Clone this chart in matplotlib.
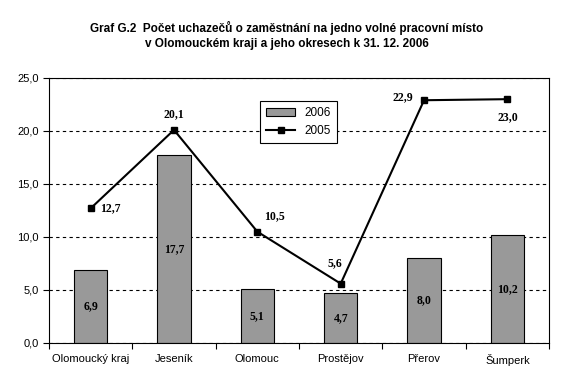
import numpy as np
import matplotlib.pyplot as plt
from matplotlib.ticker import FixedLocator, FuncFormatter

# --- data ---
kraje = ["Olomoucký kraj", "Jeseník", "Olomouc", "Prostějov", "Přerov", "Šumperk"]
v2006 = [6.9, 17.7, 5.1, 4.7, 8.0, 10.2]
v2005 = [12.7, 20.1, 10.5, 5.6, 22.9, 23.0]
# label offsets for the 2005 line (points)
off2005 = [(14, 0), (0, 11), (12, 11), (-4, 15), (-15, 2), (0, -13)]

plt.rcParams['font.family'] = ['Liberation Sans', 'DejaVu Sans']

fig = plt.figure(figsize=(5.73, 3.86), dpi=100)
ax = fig.add_axes([0.0855, 0.1114, 0.8727, 0.6866])

x = np.arange(len(kraje))
bars = ax.bar(x, v2006, width=0.4, color='#999999', edgecolor='black', linewidth=0.8,
              label='2006', zorder=2)
line, = ax.plot(x, v2005, color='black', lw=1.5, marker='s', ms=4.5, label='2005', zorder=3)

for xi, v in zip(x, v2006):
    ax.text(xi, v / 2, f"{v:.1f}".replace('.', ','), ha='center', va='center',
            family='Liberation Serif', fontweight='bold', fontsize=8.5, zorder=4)
for xi, v, (dx, dy) in zip(x, v2005, off2005):
    ax.annotate(f"{v:.1f}".replace('.', ','), (xi, v), xytext=(dx, dy),
                textcoords='offset points', ha='center', va='center',
                family='Liberation Serif', fontweight='bold', fontsize=8.5, zorder=4)

ax.set_xlim(-0.5, len(kraje) - 0.5)
ax.set_ylim(0, 25)
ax.set_yticks(np.arange(0, 26, 5))
ax.yaxis.set_major_formatter(FuncFormatter(lambda v, p: f"{v:.1f}".replace('.', ',')))
ax.yaxis.grid(True, linestyle=(0, (3, 3)), color='black', lw=0.8)
ax.set_axisbelow(True)

ax.set_xticks(x)
ax.set_xticklabels(kraje, fontsize=8)
ax.tick_params(axis='x', which='major', length=0, pad=8)
ax.xaxis.set_minor_locator(FixedLocator(np.arange(-0.5, len(kraje), 1)))
ax.tick_params(axis='x', which='minor', length=4, direction='out', width=0.8)
ax.tick_params(axis='y', labelsize=8, length=4, direction='out', width=0.8)
for s in ax.spines.values():
    s.set_linewidth(0.8)

leg = ax.legend([bars, line], ['2006', '2005'], loc='upper left',
                bbox_to_anchor=(0.41, 0.935), fontsize=8.5,
                frameon=True, fancybox=False, edgecolor='black', framealpha=1,
                handlelength=2.5, borderpad=0.5, labelspacing=0.5)
leg.get_frame().set_linewidth(0.8)

fig.text(0.5, 0.945, "Graf G.2  Počet uchazečů o zaměstnání na jedno volné pracovní místo\n"
         "v Olomouckém kraji a jeho okresech k 31. 12. 2006",
         ha='center', va='top', fontsize=8.5, fontweight='bold', linespacing=1.35,
         family=['Liberation Sans Narrow', 'Liberation Sans'])

fig.savefig('out.png', dpi=100)
